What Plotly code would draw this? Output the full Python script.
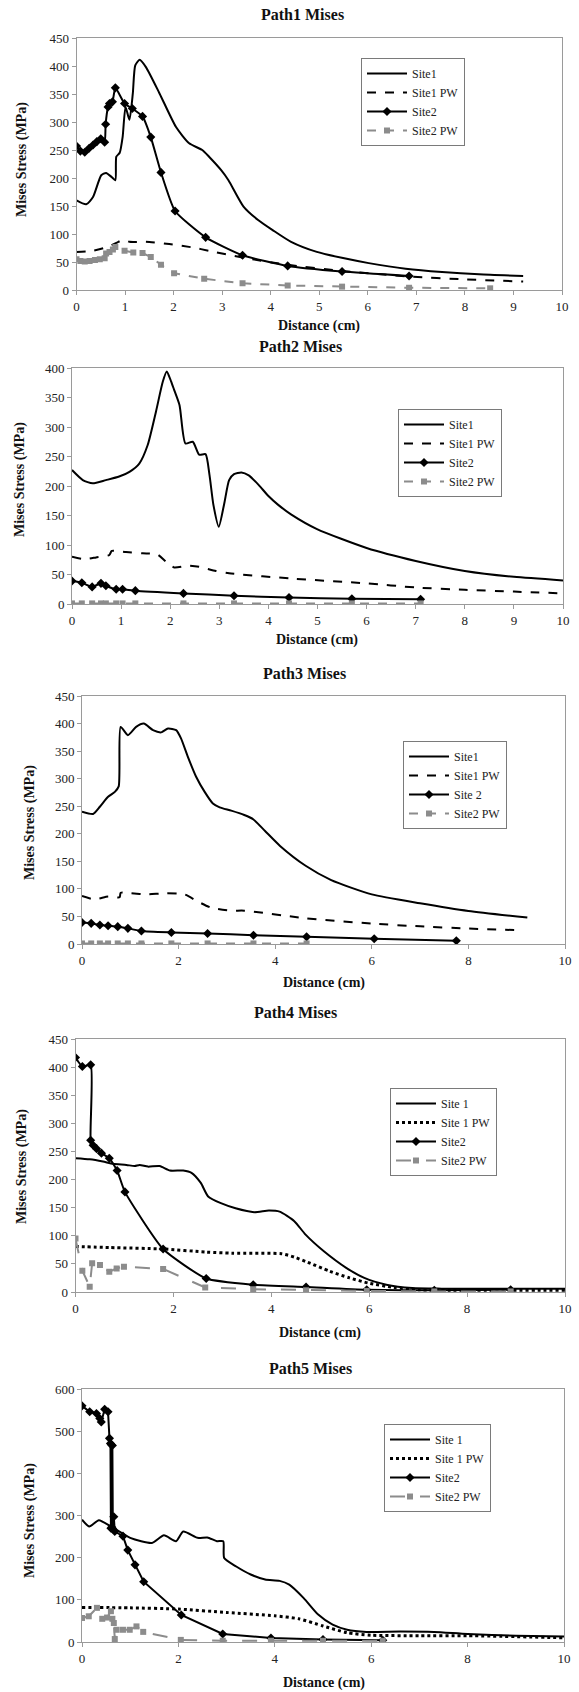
import plotly.graph_objects as go

W, H = 579, 1692

# ---------------- Path1 ----------------
p1_site1_x = [0, 0.2, 0.34, 0.51, 0.61, 0.72, 0.80, 0.82, 0.89, 0.95, 1.01, 1.09, 1.16, 1.21, 1.30, 1.43, 1.71, 2.05, 2.32, 2.59, 2.73, 2.98, 3.13, 3.44, 3.74, 4.04, 4.42, 4.95, 5.49, 6.02, 6.78, 7.53, 8.29, 9.2]
p1_site1_y = [160, 153, 166, 205, 209, 202, 196, 238, 245, 273, 327, 304, 351, 401, 411, 398, 351, 291, 262, 250, 238, 214, 196, 149, 125, 107, 86, 68, 57, 48, 38, 32, 28, 25]
p1_site1pw_x = [0, 0.34, 0.61, 0.82, 0.97, 1.09, 1.43, 1.91, 2.39, 2.73, 3.42, 4.35, 5.47, 6.85, 8.0, 9.2]
p1_site1pw_y = [68, 70, 76, 84, 90, 86, 86, 82, 76, 70, 58, 45, 34, 24, 19, 15]
p1_site2_x = [0, 0.08, 0.17, 0.26, 0.34, 0.42, 0.5, 0.58, 0.6, 0.65, 0.68, 0.74, 0.80, 0.99, 1.15, 1.36, 1.53, 1.74, 2.03, 2.66, 3.42, 4.35, 5.47, 6.85]
p1_site2_y = [257, 248, 246, 253, 259, 265, 270, 264, 296, 327, 333, 336, 361, 333, 324, 310, 273, 210, 141, 94, 62, 43, 33, 25]
p1_site2pw_x = [0, 0.08, 0.17, 0.27, 0.38, 0.48, 0.58, 0.61, 0.68, 0.75, 0.80, 0.99, 1.17, 1.36, 1.53, 1.74, 2.01, 2.63, 3.42, 4.35, 5.47, 6.85, 8.52]
p1_site2pw_y = [55, 52, 51, 52, 53.5, 55, 56.5, 65, 68, 72.5, 77, 70, 67, 66, 59, 45, 30, 20, 12, 8, 6, 4, 3]

# ---------------- Path2 ----------------
p2_site1_x = [0, 0.22, 0.42, 0.69, 0.96, 1.17, 1.37, 1.54, 1.71, 1.85, 1.93, 2.02, 2.08, 2.19, 2.31, 2.46, 2.59, 2.72, 2.80, 2.88, 2.99, 3.1, 3.2, 3.3, 3.45, 3.6, 3.8, 4.0, 4.2, 4.46, 4.99, 6.0, 7.0, 8.0, 9.0, 10]
p2_site1_y = [227, 210, 204.5, 210, 216, 224, 238, 269, 326, 377, 394, 377, 363, 337, 272, 275, 253, 254, 219, 168, 131, 170, 210, 220, 223, 218, 202, 183, 168, 152, 127, 95, 73, 56, 46, 40]
p2_site1pw_x = [0, 0.25, 0.49, 0.76, 0.81, 1.1, 1.44, 1.74, 1.91, 2.08, 2.36, 2.59, 2.93, 3.2, 4.5, 6, 7, 8, 9, 10]
p2_site1pw_y = [80, 76, 79, 83, 90, 88, 86, 84, 72, 62, 65, 63, 56, 52, 43, 35, 28, 24, 21, 18]
p2_site2_x = [0, 0.2, 0.41, 0.59, 0.69, 0.9, 1.03, 1.29, 2.27, 3.3, 4.42, 5.7, 7.1]
p2_site2_y = [39, 36, 29, 35, 31, 25, 25, 22.6, 18, 14, 11, 9, 8]
p2_site2pw_x = [0, 0.2, 0.41, 0.59, 0.69, 0.9, 1.03, 1.29, 2.27, 3.3, 4.42, 5.7, 7.1]
p2_site2pw_y = [1, 1, 1, 1, 1, 1, 1, 1, 1, 1, 1, 1, 1]

# ---------------- Path3 ----------------
p3_site1_x = [0, 0.23, 0.37, 0.54, 0.68, 0.76, 0.8, 0.95, 1.12, 1.28, 1.47, 1.64, 1.78, 1.95, 2.05, 2.19, 2.36, 2.54, 2.71, 2.85, 3.09, 3.36, 3.55, 3.79, 4.10, 4.63, 5.16, 6.0, 7.0, 8.0, 9.22]
p3_site1_y = [240, 236, 249, 267, 276, 286, 394, 379, 394, 400, 388, 384, 391, 388, 373, 340, 304, 276, 255, 248, 242, 234, 226, 205, 178, 142, 116, 90, 74, 60, 48]
p3_site1pw_x = [0, 0.26, 0.54, 0.78, 0.8, 1.02, 1.36, 1.71, 2.12, 2.4, 2.67, 3.09, 3.36, 4.6, 6, 7, 8, 9.1]
p3_site1pw_y = [87, 81, 86, 85, 93, 92, 90, 92, 90, 77, 66, 60.5, 60.5, 47, 37, 32, 28, 25]
p3_site2_x = [0, 0.19, 0.37, 0.54, 0.74, 0.95, 1.23, 1.85, 2.6, 3.55, 4.65, 6.05, 7.75]
p3_site2_y = [39, 37.5, 34.5, 33, 31.5, 28.4, 23.6, 21, 19, 16, 13, 9.5, 6]
p3_site2pw_x = [0, 0.19, 0.37, 0.54, 0.74, 0.95, 1.23, 1.85, 2.6, 3.55, 4.65]
p3_site2pw_y = [1, 1, 1, 1, 1, 1, 1, 1, 1, 1, 1]

# ---------------- Path4 ----------------
p4_site1_x = [0, 0.29, 0.56, 0.77, 1.04, 1.21, 1.31, 1.48, 1.72, 1.93, 2.2, 2.37, 2.56, 2.71, 2.97, 3.27, 3.65, 3.95, 4.17, 4.47, 4.70, 5.08, 5.53, 5.9, 6.35, 6.88, 7.48, 10]
p4_site1_y = [238, 236, 232, 228, 226, 224, 226, 223, 224, 216, 216, 212, 194, 170, 158, 149, 142, 145, 143, 126, 102, 72, 43, 25, 13, 7, 6, 6]
p4_site1pw_x = [0, 0.7, 1.79, 2.67, 3.2, 4.21, 4.47, 4.74, 5.19, 5.6, 5.98, 6.5, 7.03, 10]
p4_site1pw_y = [81, 79, 76.5, 71, 69, 68, 62, 53, 37, 25, 16, 8, 4, 3]
p4_site2_x = [0, 0.14, 0.31, 0.31, 0.36, 0.43, 0.53, 0.69, 0.85, 1.01, 1.79, 2.67, 3.63, 4.71, 5.95, 7.33, 8.89]
p4_site2_y = [417, 401, 404, 270, 261, 255, 247, 238, 216, 178, 76.5, 24, 13, 9, 4, 3, 4]
p4_site2pw_x = [0, 0.14, 0.29, 0.34, 0.5, 0.69, 0.84, 0.99, 1.79, 2.65, 3.63, 4.71, 5.95, 7.33, 8.89]
p4_site2pw_y = [95, 38, 9.5, 51, 48, 36, 42, 45, 41, 8, 5, 3, 2, 1, 1]

# ---------------- Path5 ----------------
p5_site1_x = [0, 0.15, 0.35, 0.6, 1.0, 1.45, 1.7, 1.95, 2.1, 2.4, 2.6, 2.8, 2.93, 2.95, 3.2, 3.5, 3.8, 4.1, 4.3, 4.6, 4.9, 5.2, 5.5, 5.9, 6.6, 7.3, 8, 9, 10]
p5_site1_y = [290, 274, 289, 274, 247, 235, 253, 239, 262, 247, 248, 239, 239, 199, 179, 160, 148, 145, 136, 104, 65, 41, 29, 24, 25, 24, 19, 15, 13]
p5_site1pw_x = [0, 1.0, 2.0, 3.0, 4.0, 4.5, 5.0, 5.5, 6.0, 7.0, 8.0, 10]
p5_site1pw_y = [82, 81, 78, 70, 62, 55, 38, 22, 16, 15, 15, 10]
p5_site2_x = [0, 0.16, 0.3, 0.37, 0.4, 0.47, 0.54, 0.57, 0.59, 0.6, 0.61, 0.62, 0.63, 0.64, 0.66, 0.68, 0.85, 0.95, 1.1, 1.28, 2.06, 2.92, 3.92, 5.0, 6.24]
p5_site2_y = [560, 546, 542, 530, 522, 552, 546, 483, 471, 270, 468, 272, 466, 268, 297, 262, 251, 218, 183, 143, 64, 19, 9.5, 6, 4]
p5_site2pw_x = [0, 0.14, 0.31, 0.42, 0.52, 0.6, 0.63, 0.66, 0.68, 0.72, 0.85, 0.99, 1.13, 1.27, 2.05, 2.92, 3.92, 5.0, 6.24]
p5_site2pw_y = [57, 61, 81, 55, 58, 73, 55, 45, 7, 29, 29, 29, 37, 24, 5, 3, 3, 3, 3]

titles = ["Path1 Mises", "Path2 Mises", "Path3 Mises", "Path4 Mises", "Path5 Mises"]
legend_names = [
    ["Site1", "Site1 PW", "Site2", "Site2 PW"],
    ["Site1", "Site1 PW", "Site2", "Site2 PW"],
    ["Site1", "Site1 PW", "Site 2", "Site2 PW"],
    ["Site 1", "Site 1 PW", "Site2", "Site2 PW"],
    ["Site 1", "Site 1 PW", "Site2", "Site2 PW"],
]
y_max = [450, 400, 450, 450, 600]
y_step = [50, 50, 50, 50, 100]
x_step = [1, 1, 2, 2, 2]

panels = [
    (p1_site1_x, p1_site1_y, p1_site1pw_x, p1_site1pw_y, p1_site2_x, p1_site2_y, p1_site2pw_x, p1_site2pw_y),
    (p2_site1_x, p2_site1_y, p2_site1pw_x, p2_site1pw_y, p2_site2_x, p2_site2_y, p2_site2pw_x, p2_site2pw_y),
    (p3_site1_x, p3_site1_y, p3_site1pw_x, p3_site1pw_y, p3_site2_x, p3_site2_y, p3_site2pw_x, p3_site2pw_y),
    (p4_site1_x, p4_site1_y, p4_site1pw_x, p4_site1pw_y, p4_site2_x, p4_site2_y, p4_site2pw_x, p4_site2pw_y),
    (p5_site1_x, p5_site1_y, p5_site1pw_x, p5_site1pw_y, p5_site2_x, p5_site2_y, p5_site2pw_x, p5_site2pw_y),
]

# layout in pixels: plot box (x0, x1, y0, y1), title pos, x-title pos, y-title pos, legend top-left
geom = [
    dict(box=(76.5, 562, 38, 290), title=(302, 15), xt=(319, 326), yt=(22, 160), leg=(361, 58)),
    dict(box=(72, 563, 368, 604), title=(300, 346), xt=(317, 640), yt=(20, 480), leg=(398, 409)),
    dict(box=(82, 565, 696, 944), title=(304, 674), xt=(324, 983), yt=(30, 822), leg=(403, 741)),
    dict(box=(75.5, 565, 1039, 1292), title=(295, 1012), xt=(320, 1333), yt=(22, 1167), leg=(390, 1088)),
    dict(box=(82, 564, 1389, 1642), title=(311, 1368), xt=(324, 1683), yt=(30, 1520), leg=(384, 1424)),
]

SERIF = "Liberation Serif, Times New Roman, serif"
GRAY = "#8c8c8c"
AX = "#9a9a9a"

def px(x):
    return x / W

def py(y):
    return 1 - y / H

fig = go.Figure()
annotations = []
layout = {}

for i in range(5):
    n = "" if i == 0 else str(i + 1)
    xa, ya = "x" + n, "y" + n
    leg = "legend" + n
    s1x, s1y, pwx, pwy, s2x, s2y, p2x, p2y = panels[i]
    names = legend_names[i]
    pw_dash = "dash" if i < 3 else "dot"
    pw_w = 2 if i < 3 else 3
    s2pw_dash = "dash" if i < 3 else "longdash"
    s2_shape = "linear" if i == 4 else "spline"

    fig.add_trace(go.Scatter(x=s1x, y=s1y, mode="lines", name=names[0],
                             line=dict(color="black", width=2, shape="spline", smoothing=0.6),
                             xaxis=xa, yaxis=ya, legend=leg))
    fig.add_trace(go.Scatter(x=pwx, y=pwy, mode="lines", name=names[1],
                             line=dict(color="black", width=pw_w, dash=pw_dash, shape="spline", smoothing=0.6),
                             xaxis=xa, yaxis=ya, legend=leg))
    fig.add_trace(go.Scatter(x=s2x, y=s2y, mode="lines+markers", name=names[2],
                             line=dict(color="black", width=2, shape=s2_shape, smoothing=0.5),
                             marker=dict(symbol="diamond", size=7, color="black"),
                             xaxis=xa, yaxis=ya, legend=leg))
    fig.add_trace(go.Scatter(x=p2x, y=p2y, mode="lines+markers", name=names[3],
                             line=dict(color=GRAY, width=2, dash=s2pw_dash),
                             marker=dict(symbol="square", size=6, color=GRAY),
                             xaxis=xa, yaxis=ya, legend=leg))

    g = geom[i]
    x0, x1, y0, y1 = g["box"]
    axis_common = dict(showgrid=False, zeroline=False, showline=True, mirror=True,
                       linecolor=AX, linewidth=1, ticks="outside", ticklen=4, tickcolor=AX,
                       tickfont=dict(family=SERIF, size=13, color="#222"))
    layout["xaxis" + n] = dict(axis_common, domain=[px(x0), px(x1)], range=[0, 10], dtick=x_step[i],
                               tick0=0, anchor=ya, fixedrange=True)
    layout["yaxis" + n] = dict(axis_common, domain=[py(y1), py(y0)], range=[0, y_max[i]], dtick=y_step[i],
                               tick0=0, anchor=xa, fixedrange=True)
    lx, ly = g["leg"]
    layout[leg] = dict(x=px(lx), y=py(ly), xanchor="left", yanchor="top", xref="paper", yref="paper",
                       bgcolor="white", bordercolor="#7a7a7a", borderwidth=1,
                       font=dict(family=SERIF, size=12, color="#222"),
                       itemwidth=40, tracegroupgap=0, traceorder="normal")

    tx, ty = g["title"]
    annotations.append(dict(text="<b>" + titles[i] + "</b>", x=px(tx), y=py(ty), xref="paper", yref="paper",
                            showarrow=False, font=dict(family=SERIF, size=16, color="#111"),
                            xanchor="center", yanchor="middle"))
    xtx, xty = g["xt"]
    annotations.append(dict(text="<b>Distance (cm)</b>", x=px(xtx), y=py(xty), xref="paper", yref="paper",
                            showarrow=False, font=dict(family=SERIF, size=14, color="#111"),
                            xanchor="center", yanchor="middle"))
    ytx, yty = g["yt"]
    annotations.append(dict(text="<b>Mises Stress (MPa)</b>", x=px(ytx), y=py(yty), xref="paper", yref="paper",
                            showarrow=False, textangle=-90, font=dict(family=SERIF, size=14, color="#111"),
                            xanchor="center", yanchor="middle"))

fig.update_layout(width=W, height=H, margin=dict(l=0, r=0, t=0, b=0, autoexpand=False),
                  paper_bgcolor="white", plot_bgcolor="white", showlegend=True,
                  annotations=annotations, **layout)

fig.write_html("out.html", config={"displayModeBar": False},
               post_script="document.body.style.margin='0';document.body.style.overflow='hidden';")
